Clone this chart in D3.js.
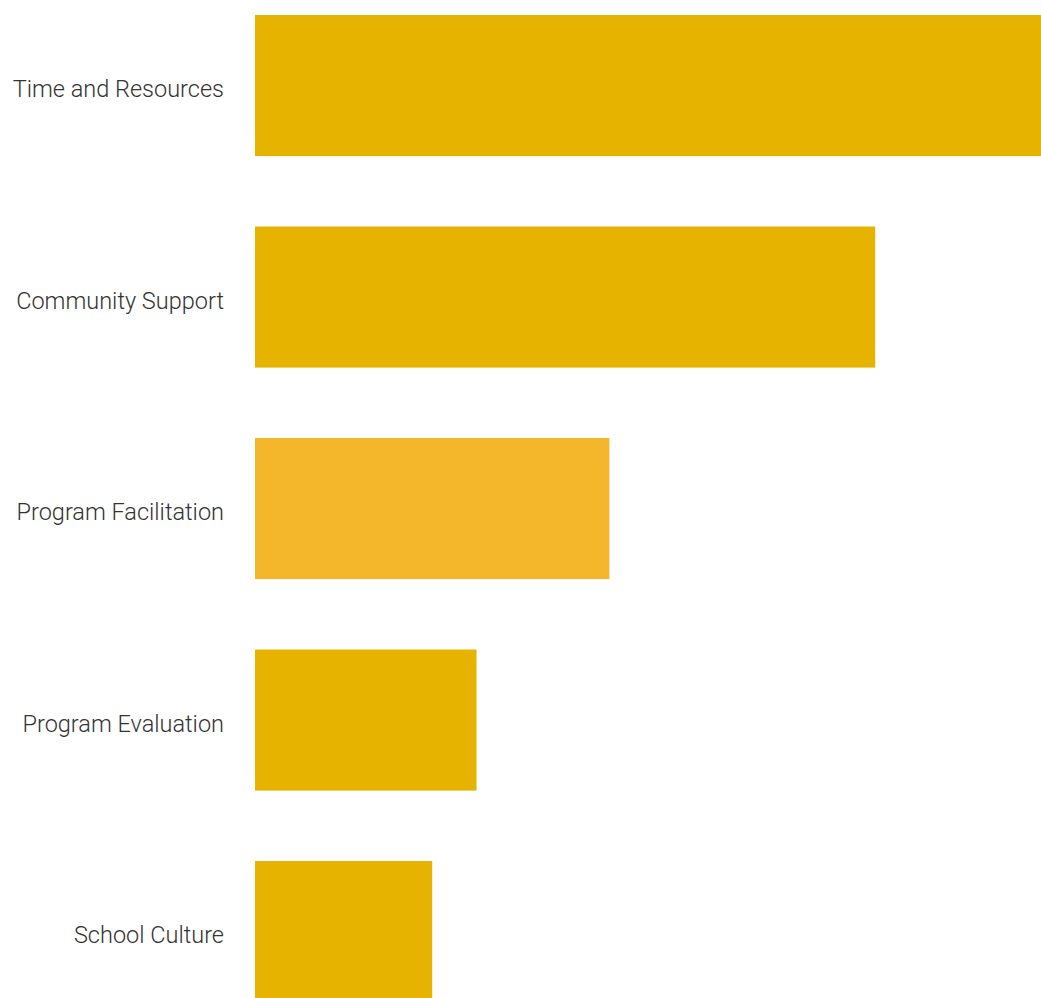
<!DOCTYPE html>
<html>
<head>
<meta charset="utf-8">
<script src="https://cdn.jsdelivr.net/npm/d3@7"></script>
<style>
  html, body { margin: 0; padding: 0; background: #fff; overflow: hidden; }
  svg { display: block; }
</style>
</head>
<body>
<svg id="chart" width="1041" height="998"></svg>
<script>
const categories = ["Time and Resources", "Community Support", "Program Facilitation", "Program Evaluation", "School Culture"];
const values = [18, 14, 8, 5, 4];
const highlighted = ["Program Facilitation"];

const svg = d3.select("#chart");
const left = 255;

const x = d3.scaleLinear().domain([0, 18]).range([left, left + 797.4]);
const y = d3.scaleBand()
  .domain(categories)
  .range([-20.2, 1037.3])
  .paddingInner(0.333)
  .paddingOuter(0.1665);

const data = categories.map((c, i) => ({ c, v: values[i] }));

svg.append("g").selectAll("rect")
  .data(data)
  .join("rect")
  .attr("x", x(0))
  .attr("y", d => y(d.c))
  .attr("width", d => x(d.v) - x(0))
  .attr("height", y.bandwidth())
  .attr("fill", d => highlighted.includes(d.c) ? "#F4B72C" : "#E5B300");

const axis = d3.axisLeft(y).tickSize(0).tickPadding(31);
const g = svg.append("g").attr("transform", `translate(${left},0)`).call(axis);
g.select(".domain").remove();
g.selectAll("text")
  .attr("font-family", "Roboto, sans-serif")
  .attr("font-size", "23.5px")
  .attr("font-weight", "300")
  .attr("fill", "#333")
  .attr("dy", "0.5em");
</script>
</body>
</html>
